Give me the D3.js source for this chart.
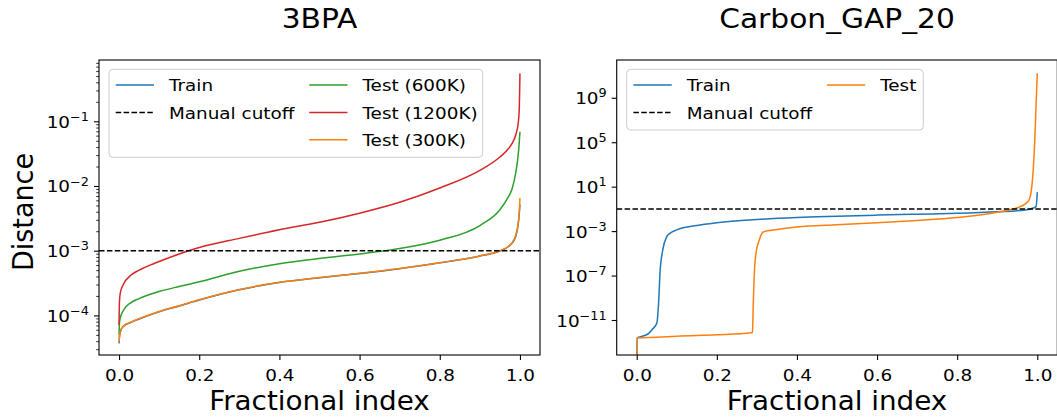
<!DOCTYPE html>
<html>
<head>
<meta charset="utf-8">
<script src="https://cdn.jsdelivr.net/npm/d3@7"></script>
<style>
    body { margin: 0; background: #fff; }
    svg { display: block; }
    text { font-family: "DejaVu Sans", sans-serif; fill: #000; }
</style>
</head>
<body>
<svg id="drawing_region" width="1057" height="419"></svg>
<script>
// ---- data ----
const titles = ['3BPA', 'Carbon_GAP_20'];
const xLabel = 'Fractional index';
const yLabel = 'Distance';
const xTicks = [0, 0.2, 0.4, 0.6, 0.8, 1.0];

// 3BPA panel, one shared fractional index
const bpaIndex = [0, 0.001, 0.003, 0.01, 0.03, 0.05, 0.1, 0.15, 0.2, 0.3, 0.4, 0.5, 0.6, 0.7, 0.8, 0.9, 0.95, 0.97, 0.98, 0.99, 0.995, 0.998, 1.0];
const bpaTrain = [3.7e-5, 4.6e-5, 5.5e-5, 6.7e-5, 7.8e-5, 8.8e-5, 1.14e-4, 1.4e-4, 1.73e-4, 2.49e-4, 3.22e-4, 3.83e-4, 4.45e-4, 5.28e-4, 6.5e-4, 8.25e-4, 9.9e-4, 1.14e-3, 1.3e-3, 1.7e-3, 2.4e-3, 3.5e-3, 5.2e-3];
const bpa600 = [5.0e-5, 7.6e-5, 9.1e-5, 1.17e-4, 1.58e-4, 1.82e-4, 2.34e-4, 2.8e-4, 3.3e-4, 4.8e-4, 6.3e-4, 7.6e-4, 8.9e-4, 1.08e-3, 1.45e-3, 2.45e-3, 4.3e-3, 6.6e-3, 8.9e-3, 1.66e-2, 2.8e-2, 4.5e-2, 6.9e-2];
const bpa1200 = [7.1e-5, 1.6e-4, 2.2e-4, 2.95e-4, 4.2e-4, 5.0e-4, 6.8e-4, 8.9e-4, 1.12e-3, 1.55e-3, 2.1e-3, 2.75e-3, 3.8e-3, 5.6e-3, 9.3e-3, 1.74e-2, 2.8e-2, 3.7e-2, 4.5e-2, 6.3e-2, 8.7e-2, 0.14, 0.55];
const bpa300 = [3.9e-5, 4.7e-5, 5.6e-5, 6.8e-5, 7.9e-5, 8.9e-5, 1.15e-4, 1.41e-4, 1.74e-4, 2.51e-4, 3.24e-4, 3.85e-4, 4.47e-4, 5.31e-4, 6.53e-4, 8.3e-4, 1.0e-3, 1.15e-3, 1.32e-3, 1.78e-3, 2.5e-3, 3.8e-3, 6.5e-3];
const bpaCutoff = 1e-3;
const bpaMajorTicks = [1e-4, 1e-3, 1e-2, 1e-1];

// Carbon_GAP_20 panel
const gapTrainIndex = [0, 0.001, 0.01, 0.02, 0.03, 0.04, 0.05, 0.055, 0.058, 0.065, 0.075, 0.083, 0.1, 0.15, 0.2, 0.3, 0.4, 0.5, 0.6, 0.7, 0.8, 0.9, 0.97, 0.99, 0.997, 1.0];
const gapTrain = [1e-15, 2.5e-13, 3.2e-13, 4e-13, 6.3e-13, 1.6e-12, 5e-12, 6.3e-10, 1.6e-7, 2e-5, 3.2e-4, 6.3e-4, 1.3e-3, 3.2e-3, 5.6e-3, 1.1e-2, 1.7e-2, 2.2e-2, 2.75e-2, 3.3e-2, 4e-2, 5.5e-2, 7.9e-2, 0.12, 0.16, 3.2];
const gapTestIndex = [0, 0.001, 0.05, 0.1, 0.2, 0.285, 0.289, 0.291, 0.294, 0.299, 0.305, 0.315, 0.33, 0.35, 0.4, 0.5, 0.6, 0.7, 0.8, 0.9, 0.95, 0.97, 0.98, 0.985, 0.99, 0.994, 0.997, 1.0];
const gapTest = [1e-15, 2.4e-13, 2.8e-13, 3.5e-13, 4.7e-13, 7.1e-13, 7.9e-13, 3.2e-10, 3.2e-7, 2e-5, 1.26e-4, 7.9e-4, 1.12e-3, 1.41e-3, 2.3e-3, 3.7e-3, 5.6e-3, 9.1e-3, 1.7e-2, 5e-2, 0.126, 0.28, 0.7, 4, 400, 2e5, 2.5e8, 1.6e11];
const gapCutoff = 1e-1;
const gapMajorTicks = [1e-11, 1e-7, 1e-3, 1e1, 1e5, 1e9];

// the reference text is a little wider than it is tall
const SX = 1.1;
const LABEL_SX = 1.07;
const svg = d3.select('#drawing_region');

class DistancePanel {
    constructor(config, series, cutoff) {
        this.config = config;
        this.series = series;
        this.cutoff = cutoff;
        this.init();
    }

    init() {
        let self = this;
        const c = self.config;

        self.chart = svg.append('g');

        self.xscale = d3.scaleLinear()
            .domain([-0.05, 1.05])
            .range([c.left, c.right]);

        self.yscale = d3.scaleLog()
            .domain(c.ydomain)
            .range([c.bottom, c.top]);

        self.clip_id = c.name + '_clip';
        svg.append('clipPath')
            .attr('id', self.clip_id)
            .append('rect')
            .attr('x', c.left)
            .attr('y', c.top)
            .attr('width', c.right - c.left)
            .attr('height', c.bottom - c.top);
    }

    render() {
        let self = this;
        const c = self.config;

        const line = d3.line()
            .x(d => self.xscale(d[0]))
            .y(d => self.yscale(d[1]))
            .curve(d3.curveMonotoneX);

        const plot = self.chart.append('g')
            .attr('clip-path', `url(#${self.clip_id})`);

        self.series.forEach(s => {
            plot.append('path')
                .datum(d3.zip(s.x, s.y))
                .attr('d', line)
                .attr('fill', 'none')
                .attr('stroke', s.color)
                .attr('stroke-width', 1.5);
        });

        plot.append('line')
            .attr('x1', c.left)
            .attr('x2', c.right)
            .attr('y1', self.yscale(self.cutoff))
            .attr('y2', self.yscale(self.cutoff))
            .attr('stroke', '#000')
            .attr('stroke-width', 1.5)
            .attr('stroke-dasharray', '5.5,2.4');

        // x axis
        const xaxis = d3.axisBottom(self.xscale)
            .tickValues(xTicks)
            .tickSize(5)
            .tickFormat(d3.format('.1f'));
        const xg = self.chart.append('g')
            .attr('transform', `translate(0, ${c.bottom})`)
            .call(xaxis);
        xg.select('.domain').remove();
        xg.selectAll('line').attr('stroke', '#000').attr('stroke-width', 1.1);
        xg.selectAll('text')
            .attr('y', 0)
            .attr('dy', 0)
            .attr('transform', `translate(0, 25.5) scale(${SX}, 1)`)
            .attr('font-size', 16.7)
            .attr('font-family', '"DejaVu Sans", sans-serif')
            .attr('fill', '#000');

        // y axis, major and minor ticks
        const yaxis = d3.axisLeft(self.yscale)
            .tickValues(c.majorTicks)
            .tickSize(5)
            .tickFormat('');
        const yg = self.chart.append('g')
            .attr('transform', `translate(${c.left}, 0)`)
            .call(yaxis);
        yg.select('.domain').remove();
        yg.selectAll('line').attr('stroke', '#000').attr('stroke-width', 1.1);

        if (c.minorTicks) {
            const [lo, hi] = self.yscale.domain();
            const minors = [];
            for (let e = Math.floor(Math.log10(lo)); e <= Math.ceil(Math.log10(hi)); e++) {
                for (let m = 2; m <= 9; m++) {
                    const v = m * Math.pow(10, e);
                    if (v >= lo && v <= hi) minors.push(v);
                }
            }
            const yminor = d3.axisLeft(self.yscale)
                .tickValues(minors)
                .tickSize(2.8)
                .tickFormat('');
            const mg = self.chart.append('g')
                .attr('transform', `translate(${c.left}, 0)`)
                .call(yminor);
            mg.select('.domain').remove();
            mg.selectAll('line').attr('stroke', '#000').attr('stroke-width', 0.8);
        }

        c.majorTicks.forEach(v => {
            const exp = Math.round(Math.log10(v));
            const t = self.chart.append('text')
                .attr('transform', `translate(${c.left - 10}, ${self.yscale(v) + 6.5}) scale(${SX}, 1)`)
                .attr('text-anchor', 'end')
                .attr('font-size', 16.7);
            t.append('tspan').text('10');
            t.append('tspan')
                .attr('dy', -6.8)
                .attr('font-size', 11.7)
                .text(exp < 0 ? '\u2212' + (-exp) : String(exp));
        });

        // frame
        self.chart.append('rect')
            .attr('x', c.left)
            .attr('y', c.top)
            .attr('width', c.right - c.left)
            .attr('height', c.bottom - c.top)
            .attr('fill', 'none')
            .attr('stroke', '#000')
            .attr('stroke-width', 1.1);

        // title and axis labels
        self.chart.append('text')
            .attr('transform', `translate(${(c.left + c.right) / 2}, 28) scale(${SX}, 1)`)
            .attr('text-anchor', 'middle')
            .attr('font-size', 27)
            .text(c.title);

        self.chart.append('text')
            .attr('transform', `translate(${(c.left + c.right) / 2}, 410) scale(${LABEL_SX}, 1)`)
            .attr('text-anchor', 'middle')
            .attr('font-size', 26)
            .text(xLabel);

        if (c.ylabel) {
            self.chart.append('text')
                .attr('transform', `translate(33, 212) rotate(-90) scale(1, ${LABEL_SX})`)
                .attr('text-anchor', 'middle')
                .attr('font-size', 27)
                .text(c.ylabel);
        }

        self.renderLegend();
    }

    renderLegend() {
        let self = this;
        const c = self.config;
        const lx = c.left + 10;
        const ly = 69.3;

        const legend = self.chart.append('g');
        legend.append('rect')
            .attr('x', lx)
            .attr('y', ly)
            .attr('width', c.legend.width)
            .attr('height', c.legend.height)
            .attr('rx', 4)
            .attr('fill', '#fff')
            .attr('fill-opacity', 0.8)
            .attr('stroke', '#ccc')
            .attr('stroke-width', 1);

        c.legend.entries.forEach(e => {
            const hx = lx + 6.7 + e.col * 193.5;
            const hy = ly + 15.7 + e.row * 27.4;
            legend.append('line')
                .attr('x1', hx)
                .attr('x2', hx + 38.3)
                .attr('y1', hy)
                .attr('y2', hy)
                .attr('stroke', e.color)
                .attr('stroke-width', 1.5)
                .attr('stroke-dasharray', e.dash ? '5.5,2.4' : null);
            legend.append('text')
                .attr('transform', `translate(${hx + 53.3}, ${hy + 6.1}) scale(${SX}, 1)`)
                .attr('font-size', 16.7)
                .text(e.label);
        });
    }
}

const blue = '#1f77b4', orange = '#ff7f0e', green = '#2ca02c', red = '#d62728';

const bpaPanel = new DistancePanel({
    name: 'bpa',
    title: titles[0],
    ylabel: yLabel,
    left: 99, right: 540, top: 60, bottom: 355,
    ydomain: [Math.pow(10, -4.612), Math.pow(10, -0.053)],
    majorTicks: bpaMajorTicks,
    minorTicks: true,
    legend: {
        width: 373.7, height: 88,
        entries: [
            { label: 'Train', color: blue, col: 0, row: 0 },
            { label: 'Manual cutoff', color: '#000', dash: true, col: 0, row: 1 },
            { label: 'Test (600K)', color: green, col: 1, row: 0 },
            { label: 'Test (1200K)', color: red, col: 1, row: 1 },
            { label: 'Test (300K)', color: orange, col: 1, row: 2 },
        ]
    }
}, [
    { x: bpaIndex, y: bpaTrain, color: blue },
    { x: bpaIndex, y: bpa600, color: green },
    { x: bpaIndex, y: bpa1200, color: red },
    { x: bpaIndex, y: bpa300, color: orange },
], bpaCutoff);
bpaPanel.render();

const gapPanel = new DistancePanel({
    name: 'gap',
    title: titles[1],
    left: 616.7, right: 1057.3, top: 60, bottom: 355,
    ydomain: [Math.pow(10, -14.15), Math.pow(10, 12.4)],
    majorTicks: gapMajorTicks,
    minorTicks: false,
    legend: {
        width: 296.6, height: 60.7,
        entries: [
            { label: 'Train', color: blue, col: 0, row: 0 },
            { label: 'Manual cutoff', color: '#000', dash: true, col: 0, row: 1 },
            { label: 'Test', color: orange, col: 1, row: 0 },
        ]
    }
}, [
    { x: gapTrainIndex, y: gapTrain, color: blue },
    { x: gapTestIndex, y: gapTest, color: orange },
], gapCutoff);
gapPanel.render();
</script>
</body>
</html>
